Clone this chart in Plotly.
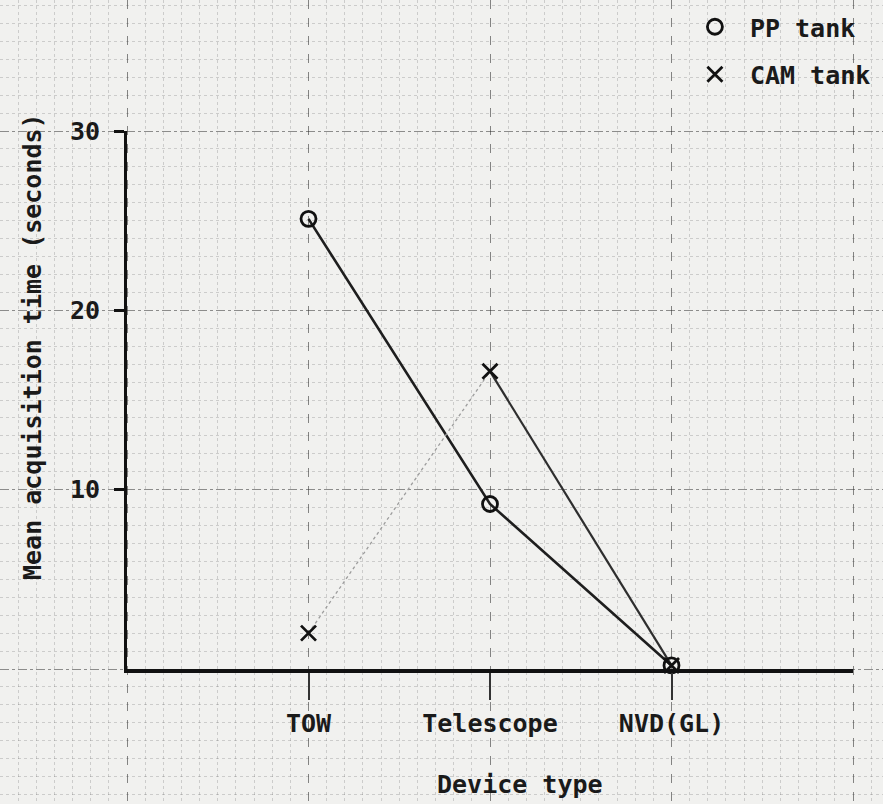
import plotly.graph_objects as go

# ---- data ----
devices = ["TOW", "Telescope", "NVD(GL)"]
pp_tank = [25.1, 9.2, 0.2]
cam_tank = [2.0, 16.6, 0.2]
y_ticks = [10, 20, 30]
x_title = "Device type"
y_title = "Mean acquisition time (seconds)"

W, H = 883, 804
FONT = "DejaVu Sans Mono"
INK = "#1a1a1a"
PAPER = "#f1f1ef"

# pixel geometry of the drawn axes on the sheet
AX_L, AX_R = 127, 853      # x pixels of y-axis and end of x-axis
AX_B, AX_T = 669, 131      # y pixels of y=0 and y=30
xr = [-1, 3]               # category range for data axis
yr = [0, 30]
px_per_cat = (AX_R - AX_L) / (xr[1] - xr[0])
px_per_y = (AX_B - AX_T) / (yr[1] - yr[0])

fig = go.Figure()

# graph-paper axes (full sheet), drawn first; empty trace makes sure the subplot exists
grid_xr = [(0 - AX_L) / px_per_cat, (W - AX_L) / px_per_cat]
grid_yr = [-(H - AX_B) / px_per_y, AX_B / px_per_y]
fig.add_trace(go.Scatter(x=[], y=[], xaxis="x", yaxis="y", showlegend=False, hoverinfo="skip"))

# data traces on x2/y2
fig.add_trace(go.Scatter(x=devices, y=pp_tank, mode="lines", xaxis="x2", yaxis="y2",
                         line=dict(color="#1e1e1e", width=2.6), showlegend=False, hoverinfo="skip"))
fig.add_trace(go.Scatter(x=devices[:2], y=cam_tank[:2], mode="lines", xaxis="x2", yaxis="y2",
                         line=dict(color="#9c9c9c", width=1.3, dash="dot"), showlegend=False, hoverinfo="skip"))
fig.add_trace(go.Scatter(x=devices[1:], y=cam_tank[1:], mode="lines", xaxis="x2", yaxis="y2",
                         line=dict(color="#2e2e2e", width=2.2), showlegend=False, hoverinfo="skip"))
fig.add_trace(go.Scatter(x=devices, y=pp_tank, mode="markers", xaxis="x2", yaxis="y2", name="PP tank",
                         marker=dict(symbol="circle-open", size=15, color="#111", line=dict(width=2.8)),
                         cliponaxis=False, legendgroup="a"))
fig.add_trace(go.Scatter(x=devices, y=cam_tank, mode="markers", xaxis="x2", yaxis="y2", name="CAM tank",
                         marker=dict(symbol="x-thin-open", size=15, color="#111", line=dict(width=2.8)),
                         cliponaxis=False, legendgroup="b"))

tickfont = dict(family=FONT, size=25, color=INK, weight="bold")

fig.update_layout(
    width=W, height=H,
    margin=dict(l=0, r=0, t=0, b=0, autoexpand=False),
    paper_bgcolor=PAPER,
    plot_bgcolor="rgba(0,0,0,0)",
    font=dict(family=FONT, size=25, color=INK, weight="bold"),
    xaxis=dict(domain=[0, 1], range=grid_xr, anchor="y", showticklabels=False, ticks="",
               automargin=False, zeroline=False, showline=False, dtick=1, tick0=0,
               showgrid=True, gridcolor="rgba(40,40,40,0.55)", gridwidth=1.3, griddash="dash",
               minor=dict(dtick=0.1, tick0=0, showgrid=True, gridcolor="rgba(60,60,60,0.2)",
                          gridwidth=1, griddash="dot")),
    yaxis=dict(domain=[0, 1], range=grid_yr, anchor="x", showticklabels=False, ticks="",
               automargin=False, zeroline=False, showline=False, dtick=10, tick0=0,
               showgrid=True, gridcolor="rgba(40,40,40,0.5)", gridwidth=1.3, griddash="dashdot",
               minor=dict(dtick=1, tick0=0, showgrid=True, gridcolor="rgba(60,60,60,0.2)",
                          gridwidth=1, griddash="dot")),
    xaxis2=dict(domain=[AX_L / W, AX_R / W], range=xr, type="category", anchor="y2",
                categoryorder="array", categoryarray=devices, automargin=False,
                showgrid=False, zeroline=False, showline=True, linecolor="#111", linewidth=3.5,
                ticks="outside", ticklen=27, tickwidth=2.2, tickcolor="#333",
                ticklabelstandoff=2, tickfont=tickfont),
    yaxis2=dict(domain=[1 - AX_B / H, 1 - AX_T / H], range=yr, anchor="x2", automargin=False,
                tickvals=y_ticks, showgrid=False, zeroline=False, showline=True,
                linecolor="#111", linewidth=3, ticks="outside", ticklen=10, tickwidth=2.5,
                tickcolor="#111", ticklabelstandoff=9, tickfont=tickfont),
    legend=dict(x=0.770, y=0.995, xanchor="left", yanchor="top", bgcolor="rgba(0,0,0,0)",
                traceorder="grouped", tracegroupgap=12, itemwidth=60,
                font=tickfont),
    annotations=[
        dict(text=y_title, xref="paper", yref="paper", x=32 / W, y=1 - 347 / H,
             textangle=-90, showarrow=False, xanchor="center", yanchor="middle", font=tickfont),
        dict(text=x_title, xref="paper", yref="paper", x=520 / W, y=1 - 784 / H,
             showarrow=False, xanchor="center", yanchor="middle", font=tickfont),
    ],
)

fig.write_html("out.html", config={"displayModeBar": False},
               post_script="document.body.style.margin='0';document.body.style.overflow='hidden';")
